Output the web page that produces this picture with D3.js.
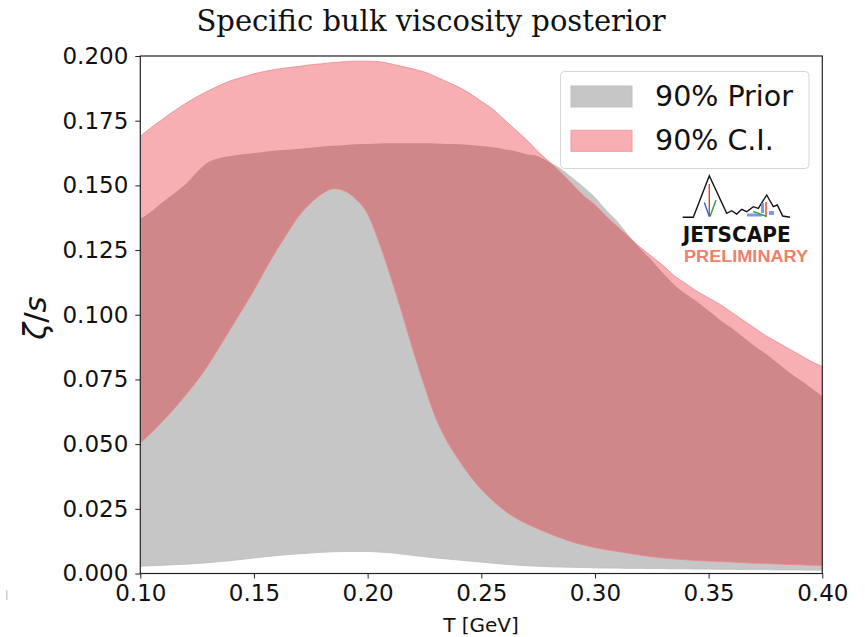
<!DOCTYPE html>
<html>
<head>
<meta charset="utf-8">
<script src="https://cdn.jsdelivr.net/npm/d3@7"></script>
<style>
  html, body { margin: 0; padding: 0; background: #fff; }
  svg { display: block; }
</style>
</head>
<body>
<svg id="chart" width="865" height="637"></svg>
<script>
// Temperature grid (GeV)
const temps = [
  0.100,0.105,0.110,0.115,0.120,0.125,0.130,0.135,0.140,0.145,
  0.150,0.155,0.160,0.165,0.170,0.175,0.180,0.185,0.190,0.195,
  0.200,0.205,0.210,0.215,0.220,0.225,0.230,0.235,0.240,0.245,
  0.250,0.255,0.260,0.265,0.270,0.275,0.280,0.285,0.290,0.295,
  0.300,0.305,0.310,0.315,0.320,0.325,0.330,0.335,0.340,0.345,
  0.350,0.355,0.360,0.365,0.370,0.375,0.380,0.385,0.390,0.395,0.400
];

// 90% prior band, lower and upper edge of zeta/s
const priorLow = [
  0.0028,0.0030,0.0032,0.0034,0.0036,0.0039,0.0042,0.0046,0.0050,0.0055,
  0.0060,0.0065,0.0069,0.0073,0.0076,0.0079,0.0082,0.0084,0.0085,0.0085,
  0.0085,0.0083,0.0080,0.0075,0.0070,0.0065,0.0060,0.0056,0.0052,0.0048,
  0.0044,0.0040,0.0036,0.0033,0.0030,0.0028,0.0026,0.0025,0.0024,0.0023,
  0.0022,0.0021,0.0021,0.0020,0.0020,0.0019,0.0019,0.0018,0.0018,0.0017,
  0.0017,0.0016,0.0016,0.0015,0.0015,0.0015,0.0014,0.0014,0.0014,0.0013,0.0013
];
const priorHigh = [
  0.1370,0.1400,0.1437,0.1470,0.1505,0.1552,0.1590,0.1606,0.1614,0.1620,
  0.1625,0.1630,0.1635,0.1638,0.1642,0.1645,0.1650,0.1653,0.1656,0.1659,
  0.1660,0.1662,0.1663,0.1663,0.1663,0.1663,0.1662,0.1660,0.1659,0.1656,
  0.1652,0.1647,0.1640,0.1632,0.1620,0.1612,0.1590,0.1565,0.1530,0.1495,
  0.1455,0.1405,0.1360,0.1305,0.1255,0.1210,0.1160,0.1115,0.1080,0.1050,
  0.1015,0.0980,0.0950,0.0915,0.0880,0.0850,0.0815,0.0780,0.0750,0.0718,0.0685
];

// 90% credible interval of the posterior
const ciLow = [
  0.0505,0.0545,0.0590,0.0638,0.0690,0.0745,0.0808,0.0878,0.0950,0.1022,
  0.1095,0.1175,0.1250,0.1320,0.1385,0.1432,0.1468,0.1487,0.1478,0.1445,
  0.1390,0.1280,0.1150,0.1010,0.0862,0.0725,0.0600,0.0510,0.0440,0.0378,
  0.0325,0.0282,0.0245,0.0215,0.0192,0.0172,0.0154,0.0137,0.0122,0.0110,
  0.0100,0.0092,0.0085,0.0078,0.0071,0.0065,0.0060,0.0056,0.0053,0.0050,
  0.0048,0.0046,0.0044,0.0042,0.0040,0.0039,0.0037,0.0035,0.0034,0.0032,0.0031
];
const ciHigh = [
  0.1690,0.1725,0.1757,0.1788,0.1817,0.1843,0.1866,0.1887,0.1905,0.1918,
  0.1931,0.1941,0.1949,0.1955,0.1960,0.1966,0.1970,0.1975,0.1978,0.1980,
  0.1980,0.1978,0.1970,0.1960,0.1950,0.1938,0.1920,0.1900,0.1880,0.1855,
  0.1825,0.1795,0.1755,0.1715,0.1675,0.1630,0.1590,0.1550,0.1505,0.1460,
  0.1425,0.1380,0.1340,0.1300,0.1260,0.1225,0.1190,0.1150,0.1120,0.1090,
  0.1065,0.1040,0.1010,0.0980,0.0950,0.0920,0.0895,0.0870,0.0845,0.0820,0.0800
];

const xTicks = [0.10, 0.15, 0.20, 0.25, 0.30, 0.35, 0.40];
const yTicks = [0.000, 0.025, 0.050, 0.075, 0.100, 0.125, 0.150, 0.175, 0.200];
const legendLabels = ["90% Prior", "90% C.I."];

const colGray = "#c6c6c6";
const colPink = "#f7afb3";
const colOverlap = "#cf878a";
const colEdge = "#e98a90";

const svg = d3.select("#chart");
const M = { left: 140.3, right: 822.3, top: 56, bottom: 573.5 };

const x = d3.scaleLinear().domain([0.10, 0.40]).range([M.left, M.right]);
const y = d3.scaleLinear().domain([0, 0.2]).range([M.bottom, M.top]);

const prior = temps.map((t, i) => ({ t, lo: priorLow[i], hi: priorHigh[i] }));
const ci = temps.map((t, i) => ({ t, lo: ciLow[i], hi: ciHigh[i] }));

const area = d3.area()
  .x(d => x(d.t)).y0(d => y(d.lo)).y1(d => y(d.hi))
  .curve(d3.curveMonotoneX);
const edgeLo = d3.line().x(d => x(d.t)).y(d => y(d.lo)).curve(d3.curveMonotoneX);
const edgeHi = d3.line().x(d => x(d.t)).y(d => y(d.hi)).curve(d3.curveMonotoneX);

const defs = svg.append("defs");
defs.append("clipPath").attr("id", "plotClip")
  .append("rect").attr("x", M.left).attr("y", M.top)
  .attr("width", M.right - M.left).attr("height", M.bottom - M.top);
defs.append("clipPath").attr("id", "ciClip")
  .append("path").attr("d", area(ci));

const plot = svg.append("g").attr("clip-path", "url(#plotClip)");

// prior band
plot.append("path").attr("d", area(prior)).attr("fill", colGray);
plot.append("path").attr("d", edgeLo(prior)).attr("fill", "none")
  .attr("stroke", "#bdbdbd").attr("stroke-width", 0.8);
// credible band
plot.append("path").attr("d", area(ci)).attr("fill", colPink);
// where both bands overlap
plot.append("g").attr("clip-path", "url(#ciClip)")
  .append("path").attr("d", area(prior)).attr("fill", colOverlap);
plot.append("path").attr("d", edgeLo(ci)).attr("fill", "none")
  .attr("stroke", colEdge).attr("stroke-width", 1).attr("opacity", 0.8);
plot.append("path").attr("d", edgeHi(ci)).attr("fill", "none")
  .attr("stroke", colEdge).attr("stroke-width", 1).attr("opacity", 0.8);

// axes
const fontSans = "'DejaVu Sans', sans-serif";
const xAxis = svg.append("g").attr("transform", `translate(0,${M.bottom})`)
  .call(d3.axisBottom(x).tickValues(xTicks).tickFormat(d3.format(".2f"))
    .tickSizeInner(5).tickSizeOuter(0).tickPadding(6));
const yAxis = svg.append("g").attr("transform", `translate(${M.left},0)`)
  .call(d3.axisLeft(y).tickValues(yTicks).tickFormat(d3.format(".3f"))
    .tickSizeInner(5).tickSizeOuter(0).tickPadding(7));
[xAxis, yAxis].forEach(a => {
  a.select(".domain").remove();
  a.selectAll(".tick line").attr("stroke", "#222").attr("stroke-width", 1);
  a.selectAll(".tick text").attr("fill", "#111")
    .style("font-family", fontSans).style("font-size", "23px");
});

// frame
svg.append("rect").attr("x", M.left).attr("y", M.top)
  .attr("width", M.right - M.left).attr("height", M.bottom - M.top)
  .attr("fill", "none").attr("stroke", "#222").attr("stroke-width", 1.2);

// title
svg.append("text").attr("x", 431).attr("y", 31).attr("text-anchor", "middle")
  .style("font-family", "'DejaVu Serif', serif").style("font-size", "29px")
  .attr("fill", "#111").text("Specific bulk viscosity posterior");

// x label
svg.append("text").attr("x", 481).attr("y", 632).attr("text-anchor", "middle")
  .style("font-family", fontSans).style("font-size", "20px")
  .attr("fill", "#111").text("T [GeV]");

// y label
const yl = svg.append("text")
  .attr("transform", "translate(46,318) rotate(-90)")
  .attr("text-anchor", "middle")
  .style("font-family", fontSans).style("font-size", "31px").attr("fill", "#111");
yl.append("tspan").style("font-style", "italic").text("ζ");
yl.append("tspan").text("/");
yl.append("tspan").style("font-style", "italic").text("s");

// legend
const lg = svg.append("g");
lg.append("rect").attr("x", 560.5).attr("y", 71.5).attr("width", 248.5).attr("height", 97)
  .attr("rx", 4).attr("fill", "#fff").attr("fill-opacity", 0.85)
  .attr("stroke", "#d6d6d6").attr("stroke-width", 1);
const swatch = [colGray, colPink];
const swatchEdge = ["#c0c0c0", "#ef9aa0"];
legendLabels.forEach((lab, i) => {
  const yy = 86 + i * 44.3;
  lg.append("rect").attr("x", 571).attr("y", yy).attr("width", 61).attr("height", 21)
    .attr("fill", swatch[i]).attr("stroke", swatchEdge[i]).attr("stroke-width", 1);
  lg.append("text").attr("x", 655).attr("y", yy + 20)
    .style("font-family", fontSans).style("font-size", "28.5px")
    .attr("fill", "#111").text(lab);
});

// collaboration mark
const logo = svg.append("g");
const skyline = [
  [682.7,217.3],[693.3,217.3],[709.3,175.7],[726.7,213.3],[731.7,210.7],
  [736.7,214],[741.7,209.3],[746.7,211.7],[753.3,206.7],[758.3,208.3],
  [766.7,195],[773.3,206.7],[777.3,205],[782.7,216],[790,217.3]
];
logo.append("path").attr("d", d3.line()(skyline))
  .attr("fill", "none").attr("stroke", "#111").attr("stroke-width", 1.4)
  .attr("stroke-linejoin", "miter");
const jets = [
  { p: [[709.3,184],[709.3,216.5]], c: "#e8402a" },
  { p: [[704.3,202.5],[709.3,216.5]], c: "#2f5fe0" },
  { p: [[716,200],[710,216.5]], c: "#2aa33a" },
  { p: [[766,202],[766,216.5]], c: "#e8402a" },
  { p: [[753.3,211.5],[766.7,216.5]], c: "#2aa33a" }
];
jets.forEach(j => logo.append("path").attr("d", d3.line()(j.p))
  .attr("stroke", j.c).attr("stroke-width", 1.4).attr("fill", "none"));
[[747,213.5,9,3],[761,203,3,10],[769,211,5,4],[756,214,6,2.5]].forEach(r =>
  logo.append("rect").attr("x", r[0]).attr("y", r[1]).attr("width", r[2]).attr("height", r[3])
    .attr("fill", "#5a7fe8").attr("opacity", 0.8));
logo.append("text").attr("x", 682.7).attr("y", 242)
  .attr("textLength", 108).attr("lengthAdjust", "spacingAndGlyphs")
  .style("font-family", "'DejaVu Sans Condensed', 'DejaVu Sans', sans-serif")
  .style("font-weight", "bold").style("font-size", "21px").attr("fill", "#111")
  .text("JETSCAPE");
logo.append("text").attr("x", 684).attr("y", 261.5)
  .attr("textLength", 124).attr("lengthAdjust", "spacingAndGlyphs")
  .style("font-family", "'Liberation Sans', Arial, sans-serif")
  .style("font-weight", "bold").style("font-size", "16px").attr("fill", "#ec7f6e")
  .text("PRELIMINARY");

// small stray mark at lower left edge
svg.append("rect").attr("x", 6).attr("y", 590).attr("width", 1.5).attr("height", 10)
  .attr("fill", "#cfcfcf");
</script>
</body>
</html>
